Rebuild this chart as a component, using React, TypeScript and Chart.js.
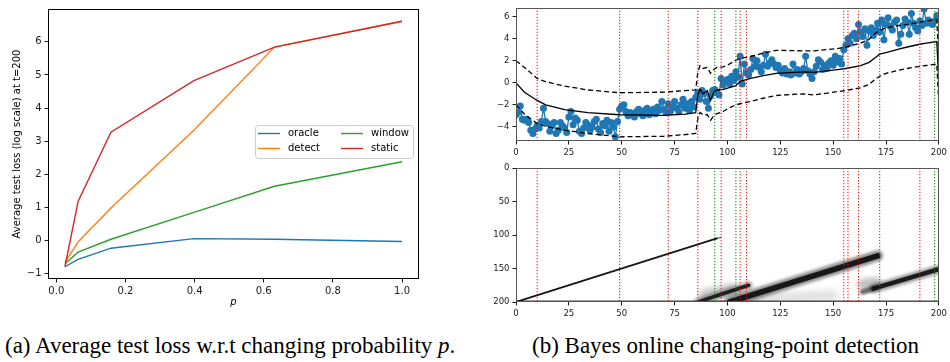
import React, { useEffect, useRef } from 'react';
import { Chart, registerables } from 'chart.js';

Chart.register(...registerables);

const FONT = '"DejaVu Sans", sans-serif';

// ---------- (a) average test loss vs changing probability ----------
const P_VALUES = [0.025, 0.063, 0.158, 0.398, 0.631, 1.0];
const ORACLE = [-0.79, -0.57, -0.23, 0.06, 0.04, -0.03];
const DETECT = [-0.66, -0.04, 0.98, 3.33, 5.84, 6.62];
const WINDOW = [-0.7, -0.35, 0.04, 0.85, 1.64, 2.38];
const STATIC = [-0.79, 1.18, 3.27, 4.83, 5.84, 6.62];
const LEFT_X_TICKS = [0, 0.2, 0.4, 0.6, 0.8, 1.0];
const LEFT_Y_TICKS = [-1, 0, 1, 2, 3, 4, 5, 6];

// ---------- (b) Bayes online changing-point detection ----------
const TIME_TICKS = [0, 25, 50, 75, 100, 125, 150, 175, 200];
const VALUE_TICKS = [-4, -2, 0, 2, 4, 6];
const RUN_TICKS = [0, 50, 100, 150, 200];

const OBSERVATIONS = [
  -2.9, -2.7, -2.1, -3.3, -3.4, -3.3, -3.6, -4.3, -4.6, -4.2,
  -3.9, -4.1, -3.5, -2.3, -3.5, -3.7, -4.4, -3.9, -3.6, -4.6,
  -4.3, -3.6, -3.9, -4.1, -4.5, -3.1, -2.6, -3.8, -3.2, -3.4,
  -4.4, -4.6, -4.1, -3.6, -3.8, -4.3, -4.0, -3.5, -3.3, -4.2,
  -4.5, -3.7, -3.9, -3.4, -4.4, -3.6, -4.0, -4.9, -3.5,
  -2.4, -2.1, -2.0, -2.6, -3.0, -2.7, -2.9, -3.1, -2.6, -2.4,
  -2.8, -3.0, -2.5, -2.3, -2.9, -2.6, -2.4, -2.8, -2.2, -2.5,
  -1.7, -2.4, -2.7, -1.9, -2.6, -2.2, -1.7, -2.3, -2.6, -2.0,
  -1.5, -2.3, -1.9, -2.5, -1.7, -2.2, -1.3,
  -0.9, -1.5, -0.7, -1.0, -1.7, -2.3, -1.2, -0.7, -0.6, -0.9,
  -1.1, 0.4, -0.2, 0.1, 0.3, -0.1, 0.6, 0.2, 1.0, 0.5, 2.4, -0.1, 1.7,
  0.9, 0.7, 1.2, 2.2, 1.5, 2.0, 1.4, 1.0, 1.6, 2.6,
  1.5, 1.8, 2.1, 1.7, 1.4, 1.6, 1.1, 0.9, 1.3, 0.8,
  1.0, 0.7, 1.7, 0.9, 1.2, 0.8, 1.0, 1.3, 2.4, 1.1,
  0.8, 0.4, 1.0, 1.5, 2.1, 1.9, 1.2, 1.6, 1.3, 1.8,
  2.0, 1.6, 2.4, 1.9, 2.2, 1.7,
  3.0, 3.4, 4.0, 3.6, 4.3, 4.5, 4.0, 5.3, 4.6, 4.2,
  4.9, 3.4, 4.7, 5.0, 4.3, 4.8, 5.4, 4.6, 5.7, 3.9,
  5.3, 5.9, 5.1, 4.8, 5.5, 5.7, 3.6, 4.4, 5.2, 5.8,
  5.5, 4.4, 6.3, 5.4, 5.0, 4.7, 5.6, 5.2, 6.7, 5.4,
  5.7, 5.4, 5.3, 5.6, 6.1,
];

const BAND_T = [0, 4, 10, 14, 23, 34, 49, 70, 80, 85, 86, 87, 88.5, 90.5, 92, 93.5, 95, 98, 100.5, 104, 106, 111, 117, 123, 136, 141, 152, 156, 163, 167, 170, 172, 175, 181, 185, 191, 194, 199, 200];
const POST_MEAN = [0, -0.86, -1.6, -2.0, -2.43, -2.7, -2.9, -2.95, -2.85, -2.7, -1.1, -0.6, -1.0, -0.7, -1.6, -0.86, -0.65, -0.6, -0.45, -0.25, 0.14, 0.4, 0.65, 0.86, 1.0, 0.95, 1.2, 1.3, 1.57, 1.86, 2.3, 2.6, 2.75, 3.05, 3.25, 3.5, 3.6, 3.75, 0];
const POST_UPPER = [2.0, 1.4, 0.4, 0.1, -0.3, -0.65, -0.9, -0.85, -0.7, -0.65, 1.0, 1.55, 1.3, 1.4, 0.86, 1.2, 1.4, 1.45, 1.65, 2.05, 2.2, 2.4, 2.7, 2.95, 2.9, 2.9, 3.1, 3.25, 3.6, 3.95, 4.5, 4.75, 5.0, 5.2, 5.3, 5.5, 5.6, 5.75, 2.0];
const POST_LOWER = [-2.0, -2.85, -3.7, -3.95, -4.3, -4.6, -4.9, -4.85, -4.7, -4.6, -3.2, -2.7, -2.9, -2.9, -3.4, -3.0, -2.8, -2.6, -2.3, -2.0, -1.9, -1.7, -1.4, -1.15, -1.0, -1.1, -0.8, -0.7, -0.45, -0.15, 0.35, 0.6, 0.86, 1.15, 1.3, 1.5, 1.57, 1.7, -2.0];

const RED_CHANGES = [10, 49, 72, 86, 97, 106, 109, 155, 157, 162, 191];
const GREEN_CHANGES = [94, 104, 172, 198];

// run-length posterior: [time, run-length row]
const RUN_PATH_FIRST: [number, number][] = [[0, 200], [95, 105]];
const RUN_TAIL_FIRST: [number, number][] = [[94, 106], [97, 103.5]];
const RUN_PATH_SECOND: [number, number][] = [[86, 200], [110, 175]];
const RUN_HAZE_SECOND: [number, number][] = [[89, 189], [102, 180]];
const RUN_PATH_THIRD: [number, number][] = [[101, 200], [171, 131]];
const RUN_HAZE_THIRD: [number, number][] = [[104, 197], [150, 190]];
const RUN_PATH_FOURTH: [number, number][] = [[169, 180], [200, 151]];
const RUN_FADE_FOURTH: [number, number][] = [[164, 185], [171, 178]];
const RUN_HAZE_FOURTH: [number, number][] = [[164, 174], [170, 171]];
const RUN_BASE_ROW: [number, number][] = [[0, 199.4], [200, 199.4]];

const TOP_MIN = -5.28;
const TOP_MAX = 6.78;

// ---------- helpers ----------
const minusFmt = (v: any) => {
  const n = Number(v);
  return n < 0 ? '\u2212' + Math.abs(n) : String(n);
};

const fixedTicks = (vals: number[]) => (scale: any) => {
  scale.ticks = vals.map((v) => ({ value: v }));
};

const framePlugin = {
  id: 'frame',
  afterDatasetsDraw(chart: any, _args: any, opts: any) {
    const { ctx, chartArea: a } = chart;
    ctx.save();
    ctx.strokeStyle = opts.color || '#000';
    ctx.lineWidth = opts.width || 1;
    ctx.strokeRect(Math.round(a.left) + 0.5, Math.round(a.top) + 0.5, Math.round(a.right - a.left) - 1, Math.round(a.bottom - a.top) - 1);
    ctx.restore();
  },
};

const blurPlugin = {
  id: 'blurPlugin',
  beforeDatasetDraw(chart: any, args: any) {
    const ds = chart.data.datasets[args.index];
    if (ds.blur) {
      chart.ctx.save();
      chart.ctx.filter = `blur(${ds.blur}px)`;
    }
  },
  afterDatasetDraw(chart: any, args: any) {
    const ds = chart.data.datasets[args.index];
    if (ds.blur) chart.ctx.restore();
  },
};

const boxLegendPlugin = {
  id: 'boxLegend',
  afterDraw(chart: any, _args: any, opts: any) {
    const { ctx } = chart;
    const { x, y, w, h, colX, rowY, lineLen, textGap } = opts;
    ctx.save();
    ctx.fillStyle = 'rgba(255,255,255,0.8)';
    ctx.strokeStyle = '#cccccc';
    ctx.lineWidth = 1;
    ctx.beginPath();
    (ctx as any).roundRect(x + 0.5, y + 0.5, w, h, 3);
    ctx.fill();
    ctx.stroke();
    ctx.font = `10px ${FONT}`;
    ctx.textBaseline = 'middle';
    ctx.fillStyle = '#000';
    chart.data.datasets.forEach((ds: any, i: number) => {
      const col = Math.floor(i / 2);
      const row = i % 2;
      const lx = colX[col];
      const ly = rowY[row];
      ctx.strokeStyle = ds.borderColor;
      ctx.lineWidth = 1.4;
      ctx.beginPath();
      ctx.moveTo(lx, ly);
      ctx.lineTo(lx + lineLen, ly);
      ctx.stroke();
      ctx.fillText(ds.label, lx + lineLen + textGap, ly);
    });
    ctx.restore();
  },
};

const tickFont = (size: number) => ({ family: FONT, size });

function axisBase(size: number, vals: number[], fit: (s: any) => void, fmt: (v: any) => string) {
  return {
    type: 'linear' as const,
    afterBuildTicks: fixedTicks(vals),
    afterFit: fit,
    border: { display: false },
    grid: { display: true, drawOnChartArea: false, drawTicks: true, tickLength: 3.5, color: '#000', lineWidth: 0.9 },
    ticks: { padding: 3, font: tickFont(size), color: '#1a1a1a', callback: fmt, maxRotation: 0, autoSkip: false },
  };
}

function verticalMarks(times: number[], lo: number, hi: number) {
  const pts: any[] = [];
  times.forEach((t) => {
    pts.push({ x: t, y: lo }, { x: t, y: hi }, { x: t, y: null });
  });
  return pts;
}

const toXY = (path: [number, number][]) => path.map(([x, y]) => ({ x, y }));

function ChartCanvas({ build, left, top, width, height }: any) {
  const ref = useRef<HTMLCanvasElement>(null);
  useEffect(() => {
    const chart = new Chart(ref.current as HTMLCanvasElement, build());
    return () => chart.destroy();
  }, []);
  return (
    <canvas
      ref={ref}
      width={width}
      height={height}
      style={{ position: 'absolute', left, top, width, height }}
    />
  );
}

// ---------- chart configs ----------
const buildLeft = (): any => {
  const mk = (label: string, vals: number[], color: string, order: number) => ({
    label,
    data: P_VALUES.map((p, i) => ({ x: p, y: vals[i] })),
    borderColor: color,
    backgroundColor: color,
    order,
  });
  return {
    type: 'line',
    data: {
      datasets: [
        mk('oracle', ORACLE, '#1f77b4', 4),
        mk('detect', DETECT, '#ff7f0e', 3),
        mk('window', WINDOW, '#2ca02c', 2),
        mk('static', STATIC, '#d62728', 1),
      ],
    },
    options: {
      responsive: false,
      animation: false,
      layout: { padding: { top: 3, right: 6, left: 0, bottom: 0 } },
      elements: { point: { radius: 0 }, line: { borderWidth: 1.4, tension: 0 } },
      plugins: {
        legend: { display: false },
        tooltip: { enabled: false },
        frame: { color: '#000', width: 1 },
        boxLegend: { x: 255, y: 125, w: 158, h: 33, colX: [258, 341], rowY: [133.5, 148.5], lineLen: 22, textGap: 8 },
      },
      scales: {
        x: {
          ...axisBase(10, LEFT_X_TICKS, (s: any) => { s.height = 31; }, (v: any) => Number(v).toFixed(1)),
          min: -0.024,
          max: 1.049,
          title: { display: true, text: 'p', color: '#000', font: { family: FONT, size: 10, style: 'italic' }, padding: { top: 0, bottom: 2 } },
        },
        y: {
          ...axisBase(10, LEFT_Y_TICKS, (s: any) => { s.width = 48; }, minusFmt),
          min: -1.16,
          max: 6.99,
          title: { display: true, text: 'Average test loss (log scale) at t=200', color: '#000', font: { family: FONT, size: 10 }, padding: { top: 11, bottom: 0 } },
        },
      },
    },
    plugins: [framePlugin, boxLegendPlugin],
  };
};

const markDatasets = (lo: number, hi: number) => [
  {
    data: verticalMarks(RED_CHANGES, lo, hi),
    borderColor: 'rgba(255,0,0,0.9)',
    borderWidth: 1.1,
    borderDash: [1.2, 1.8],
    pointRadius: 0,
    spanGaps: false,
    order: 0,
    clip: 0,
  },
  {
    data: verticalMarks(GREEN_CHANGES, lo, hi),
    borderColor: 'rgba(0,128,0,0.9)',
    borderWidth: 1.1,
    borderDash: [1.2, 1.8],
    pointRadius: 0,
    spanGaps: false,
    order: 0,
    clip: 0,
  },
];

const buildTop = (): any => {
  const band = (vals: number[], dashed: boolean) => ({
    data: BAND_T.map((t, i) => ({ x: t, y: vals[i] })),
    borderColor: '#000',
    borderWidth: 1.3,
    borderDash: dashed ? [5, 3] : [],
    pointRadius: 0,
    order: 1,
  });
  return {
    type: 'line',
    data: {
      datasets: [
        ...markDatasets(TOP_MIN, TOP_MAX),
        band(POST_MEAN, false),
        band(POST_UPPER, true),
        band(POST_LOWER, true),
        {
          data: OBSERVATIONS.map((v, i) => ({ x: i, y: v })),
          borderColor: '#1f77b4',
          backgroundColor: '#1f77b4',
          borderWidth: 1.3,
          pointRadius: 3.5,
          pointBorderWidth: 0,
          order: 2,
        },
      ],
    },
    options: {
      responsive: false,
      animation: false,
      layout: { padding: { top: 1, right: 9, left: 0, bottom: 0 } },
      elements: { line: { tension: 0 } },
      plugins: { legend: { display: false }, tooltip: { enabled: false }, frame: { color: '#555', width: 1 } },
      scales: {
        x: { ...axisBase(8.5, TIME_TICKS, (s: any) => { s.height = 19; }, (v: any) => String(v)), min: 0, max: 200 },
        y: { ...axisBase(8.5, VALUE_TICKS, (s: any) => { s.width = 36; }, minusFmt), min: TOP_MIN, max: TOP_MAX },
      },
    },
    plugins: [framePlugin],
  };
};

const buildBottom = (): any => {
  const seg = (path: [number, number][], color: string, width: number, blur: number, order: number) => ({
    data: toXY(path),
    borderColor: color,
    borderWidth: width,
    borderCapStyle: 'round',
    pointRadius: 0,
    clip: 0,
    blur,
    order,
  });
  return {
    type: 'line',
    data: {
      datasets: [
        ...markDatasets(0, 200),
        seg(RUN_PATH_FIRST, '#141414', 1.7, 0, 1),
        seg(RUN_TAIL_FIRST, 'rgba(90,90,90,0.7)', 1.6, 0.4, 1),
        seg(RUN_PATH_SECOND, 'rgba(25,25,25,0.95)', 3.5, 0.6, 2),
        seg(RUN_PATH_THIRD, 'rgba(20,20,20,0.97)', 5.5, 0.6, 2),
        seg(RUN_PATH_FOURTH, 'rgba(20,20,20,0.95)', 4.5, 0.6, 2),
        seg(RUN_FADE_FOURTH, 'rgba(50,50,50,0.7)', 5.5, 1, 3),
        seg(RUN_PATH_THIRD, 'rgba(0,0,0,0.45)', 11, 1.5, 4),
        seg(RUN_PATH_SECOND, 'rgba(0,0,0,0.35)', 8, 1.5, 4),
        seg(RUN_PATH_FOURTH, 'rgba(0,0,0,0.4)', 9, 1.5, 4),
        seg(RUN_HAZE_SECOND, 'rgba(0,0,0,0.2)', 11, 2.5, 5),
        seg(RUN_HAZE_THIRD, 'rgba(0,0,0,0.12)', 10, 3, 5),
        seg(RUN_HAZE_FOURTH, 'rgba(0,0,0,0.25)', 11, 2.5, 5),
        seg(RUN_BASE_ROW, 'rgba(40,40,40,0.9)', 2, 0, 3),
      ],
    },
    options: {
      responsive: false,
      animation: false,
      layout: { padding: { top: 3, right: 9, left: 0, bottom: 0 } },
      elements: { line: { tension: 0 } },
      plugins: { legend: { display: false }, tooltip: { enabled: false }, frame: { color: '#555', width: 1 } },
      scales: {
        x: { ...axisBase(8.5, TIME_TICKS, (s: any) => { s.height = 20; }, (v: any) => String(v)), min: 0, max: 200 },
        y: { ...axisBase(8.5, RUN_TICKS, (s: any) => { s.width = 36; }, (v: any) => String(v)), min: 0, max: 200, reverse: true },
      },
    },
    plugins: [framePlugin, blurPlugin],
  };
};

export default function App() {
  const caption: React.CSSProperties = {
    position: 'absolute',
    top: 332,
    fontFamily: '"Liberation Serif", "Times New Roman", serif',
    fontSize: 23,
    lineHeight: '28px',
    whiteSpace: 'nowrap',
    color: '#000',
  };
  return (
    <div style={{ position: 'absolute', left: 0, top: 0, width: 950, height: 362, background: '#fff', overflow: 'hidden' }}>
      <ChartCanvas build={buildLeft} left={0} top={0} width={425} height={310} />
      <ChartCanvas build={buildTop} left={480} top={0} width={470} height={160} />
      <ChartCanvas build={buildBottom} left={480} top={160} width={470} height={162} />
      <div style={{ ...caption, left: 5 }}>
        (a) Average test loss w.r.t changing probability <i>p</i>.
      </div>
      <div style={{ ...caption, left: 532 }}>(b) Bayes online changing-point detection</div>
    </div>
  );
}
